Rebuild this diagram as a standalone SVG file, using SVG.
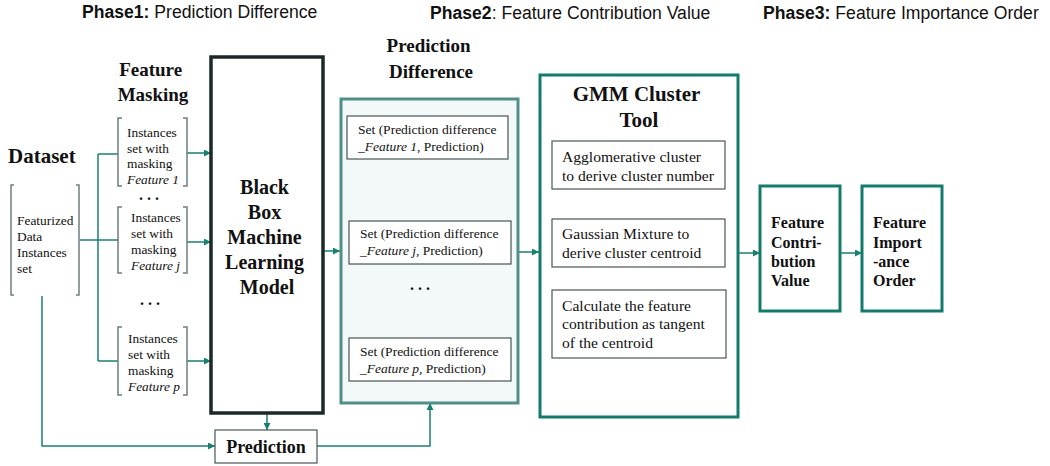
<svg xmlns="http://www.w3.org/2000/svg" width="1050" height="466" viewBox="0 0 1050 466">
  <style>
    .phase { font-family: "Liberation Sans", Arial, sans-serif; font-size: 17.6px; fill: #111; }
    .phase .b { font-weight: bold; }
    .head { font-family: "Liberation Serif", "Times New Roman", serif; font-weight: bold; fill: #111; }
    .txt { font-family: "Liberation Serif", "Times New Roman", serif; fill: #111; }
    .s14 { font-size: 13.4px; }
    .s13 { font-size: 13.5px; }
    .s16 { font-size: 15.6px; }
    .it { font-style: italic; }
    .bracket { fill: none; stroke: #6f7d7d; stroke-width: 1.5; }
    .conn { fill: none; stroke: #17806f; stroke-width: 1.5; }
    .plain { fill: #fff; stroke: #4a5555; stroke-width: 1.2; }
    .teal { fill: #fff; stroke: #137a6c; stroke-width: 3; }
    .dots { font-family: "Liberation Serif", "Times New Roman", serif; font-size: 16px; font-weight: bold; fill: #111; }
  </style>
  <defs>
    <marker id="arrow" viewBox="0 0 10 10" refX="10" refY="5" markerWidth="7" markerHeight="7" markerUnits="userSpaceOnUse" orient="auto">
      <path d="M0,0 L10,5 L0,10 z" fill="#17806f"/>
    </marker>
  </defs>
  <rect width="1050" height="466" fill="#fff"/>

  <!-- phase titles -->
  <text class="phase" x="82" y="18"><tspan class="b">Phase1:</tspan> Prediction Difference</text>
  <text class="phase" x="430" y="19"><tspan class="b">Phase2</tspan>: Feature Contribution Value</text>
  <text class="phase" x="763" y="19"><tspan class="b">Phase3:</tspan> Feature Importance Order</text>

  <!-- connectors -->
  <g id="connectors">
    <path class="conn" d="M80,240 H118"/>
    <path class="conn" d="M98,154 V361"/>
    <path class="conn" d="M98,154 H118"/>
    <path class="conn" d="M98,361 H118"/>
    <path class="conn" d="M187,153 H211" marker-end="url(#arrow)"/>
    <path class="conn" d="M187,242 H211" marker-end="url(#arrow)"/>
    <path class="conn" d="M187,361 H211" marker-end="url(#arrow)"/>
    <path class="conn" d="M323,251 H340" marker-end="url(#arrow)"/>
    <path class="conn" d="M267,413 V430" marker-end="url(#arrow)"/>
    <path class="conn" d="M42,296 V446 H215" marker-end="url(#arrow)"/>
    <path class="conn" d="M317,446 H430 V403" marker-end="url(#arrow)"/>
    <path class="conn" d="M518,252 H539" marker-end="url(#arrow)"/>
    <path class="conn" d="M738,253 H760" marker-end="url(#arrow)"/>
    <path class="conn" d="M840,253 H862" marker-end="url(#arrow)"/>
  </g>

  <!-- dataset -->
  <g id="dataset">
    <text class="head" x="8" y="163" font-size="21">Dataset</text>
    <path class="bracket" d="M14,185 H11 V295 H14 M76,185 H79 V295 H76"/>
    <text class="txt s14">
      <tspan x="17" y="225">Featurized</tspan>
      <tspan x="17" y="241">Data</tspan>
      <tspan x="17" y="257">Instances</tspan>
      <tspan x="17" y="273">set</tspan>
    </text>
  </g>

  <!-- feature masking -->
  <g id="feature-masking">
    <text class="head" font-size="19" text-anchor="middle">
      <tspan x="153" y="76">Feature</tspan>
      <tspan x="153" y="101">Masking</tspan>
    </text>
  </g>
  <g id="mask-1">
    <path class="bracket" d="M122,118 H118 V186 H122 M183,118 H187 V186 H183"/>
    <text class="txt s14">
      <tspan x="127" y="137">Instances</tspan>
      <tspan x="127" y="153">set with</tspan>
      <tspan x="127" y="168">masking</tspan>
      <tspan x="127" y="184" class="it">Feature 1</tspan>
    </text>
  </g>
  <text class="dots" x="149" y="200" text-anchor="middle">. . .</text>
  <g id="mask-j">
    <path class="bracket" d="M122,207 H118 V273 H122 M183,207 H187 V273 H183"/>
    <text class="txt s14">
      <tspan x="131" y="222">Instances</tspan>
      <tspan x="131" y="238">set with</tspan>
      <tspan x="131" y="254">masking</tspan>
      <tspan x="131" y="270" class="it">Feature j</tspan>
    </text>
  </g>
  <text class="dots" x="150" y="305" text-anchor="middle">. . .</text>
  <g id="mask-p">
    <path class="bracket" d="M122,327 H118 V395 H122 M183,327 H187 V395 H183"/>
    <text class="txt s14">
      <tspan x="128" y="343">Instances</tspan>
      <tspan x="128" y="359">set with</tspan>
      <tspan x="128" y="375">masking</tspan>
      <tspan x="128" y="391" class="it">Feature p</tspan>
    </text>
  </g>

  <!-- black box model -->
  <g id="black-box">
    <rect x="211" y="57" width="112" height="356" fill="#fff" stroke="#1c2828" stroke-width="3.5"/>
    <text class="head" font-size="20" text-anchor="middle" fill="#1c2828">
      <tspan x="267" y="194">Black</tspan>
      <tspan x="267" y="219">Box</tspan>
      <tspan x="267" y="244">Machine</tspan>
      <tspan x="267" y="269">Learning</tspan>
      <tspan x="267" y="294">Model</tspan>
    </text>
  </g>

  <!-- prediction -->
  <g id="prediction">
    <rect x="215" y="430" width="102" height="33" fill="#fff" stroke="#4a5555" stroke-width="1.2"/>
    <text class="head" x="266" y="453" font-size="18" text-anchor="middle">Prediction</text>
  </g>

  <!-- prediction difference -->
  <g id="prediction-difference">
    <text class="head" font-size="19" text-anchor="middle">
      <tspan x="431" y="52">Prediction</tspan>
      <tspan x="431" y="78">Difference</tspan>
    </text>
    <rect x="341" y="99" width="177" height="304" fill="#f3f8f8" stroke="#4f8f86" stroke-width="3"/>
    <rect class="plain" x="347" y="116" width="161" height="43"/>
    <text class="txt s13">
      <tspan x="358" y="134">Set (Prediction difference</tspan>
      <tspan x="358" y="151"><tspan class="it">_Feature 1</tspan>, Prediction)</tspan>
    </text>
    <rect class="plain" x="349" y="221" width="162" height="43"/>
    <text class="txt s13">
      <tspan x="360" y="238">Set (Prediction difference</tspan>
      <tspan x="360" y="255"><tspan class="it">_Feature j,</tspan> Prediction)</tspan>
    </text>
    <text class="dots" x="420" y="290" text-anchor="middle">. . .</text>
    <rect class="plain" x="349" y="338" width="162" height="43"/>
    <text class="txt s13">
      <tspan x="360" y="356">Set (Prediction difference</tspan>
      <tspan x="360" y="373"><tspan class="it">_Feature p,</tspan> Prediction)</tspan>
    </text>
  </g>

  <!-- GMM cluster tool -->
  <g id="gmm">
    <rect class="teal" x="540" y="75" width="198" height="342"/>
    <text class="head" font-size="21" text-anchor="middle">
      <tspan x="639" y="101">GMM Cluster</tspan>
      <tspan x="639" y="127">Tool</tspan>
    </text>
    <rect class="plain" x="552" y="141" width="173" height="48"/>
    <text class="txt s16">
      <tspan x="562" y="162">Agglomerative cluster</tspan>
      <tspan x="562" y="181">to derive cluster number</tspan>
    </text>
    <rect class="plain" x="552" y="219" width="173" height="48"/>
    <text class="txt s16">
      <tspan x="562" y="239">Gaussian Mixture to</tspan>
      <tspan x="562" y="258">derive cluster centroid</tspan>
    </text>
    <rect class="plain" x="552" y="290" width="174" height="68"/>
    <text class="txt s16">
      <tspan x="562" y="311">Calculate the feature</tspan>
      <tspan x="562" y="329">contribution as tangent</tspan>
      <tspan x="562" y="348">of the centroid</tspan>
    </text>
  </g>

  <!-- feature contribution value -->
  <g id="contribution">
    <rect class="teal" x="760" y="186" width="80" height="125" stroke-width="2.5"/>
    <text class="head" font-size="16">
      <tspan x="771" y="228">Feature</tspan>
      <tspan x="771" y="248">Contri-</tspan>
      <tspan x="771" y="267">bution</tspan>
      <tspan x="771" y="286">Value</tspan>
    </text>
  </g>

  <!-- feature importance order -->
  <g id="importance">
    <rect class="teal" x="862" y="186" width="80" height="125" stroke-width="2.5"/>
    <text class="head" font-size="16">
      <tspan x="873" y="228">Feature</tspan>
      <tspan x="873" y="248">Import</tspan>
      <tspan x="873" y="267">-ance</tspan>
      <tspan x="873" y="286">Order</tspan>
    </text>
  </g>
</svg>
